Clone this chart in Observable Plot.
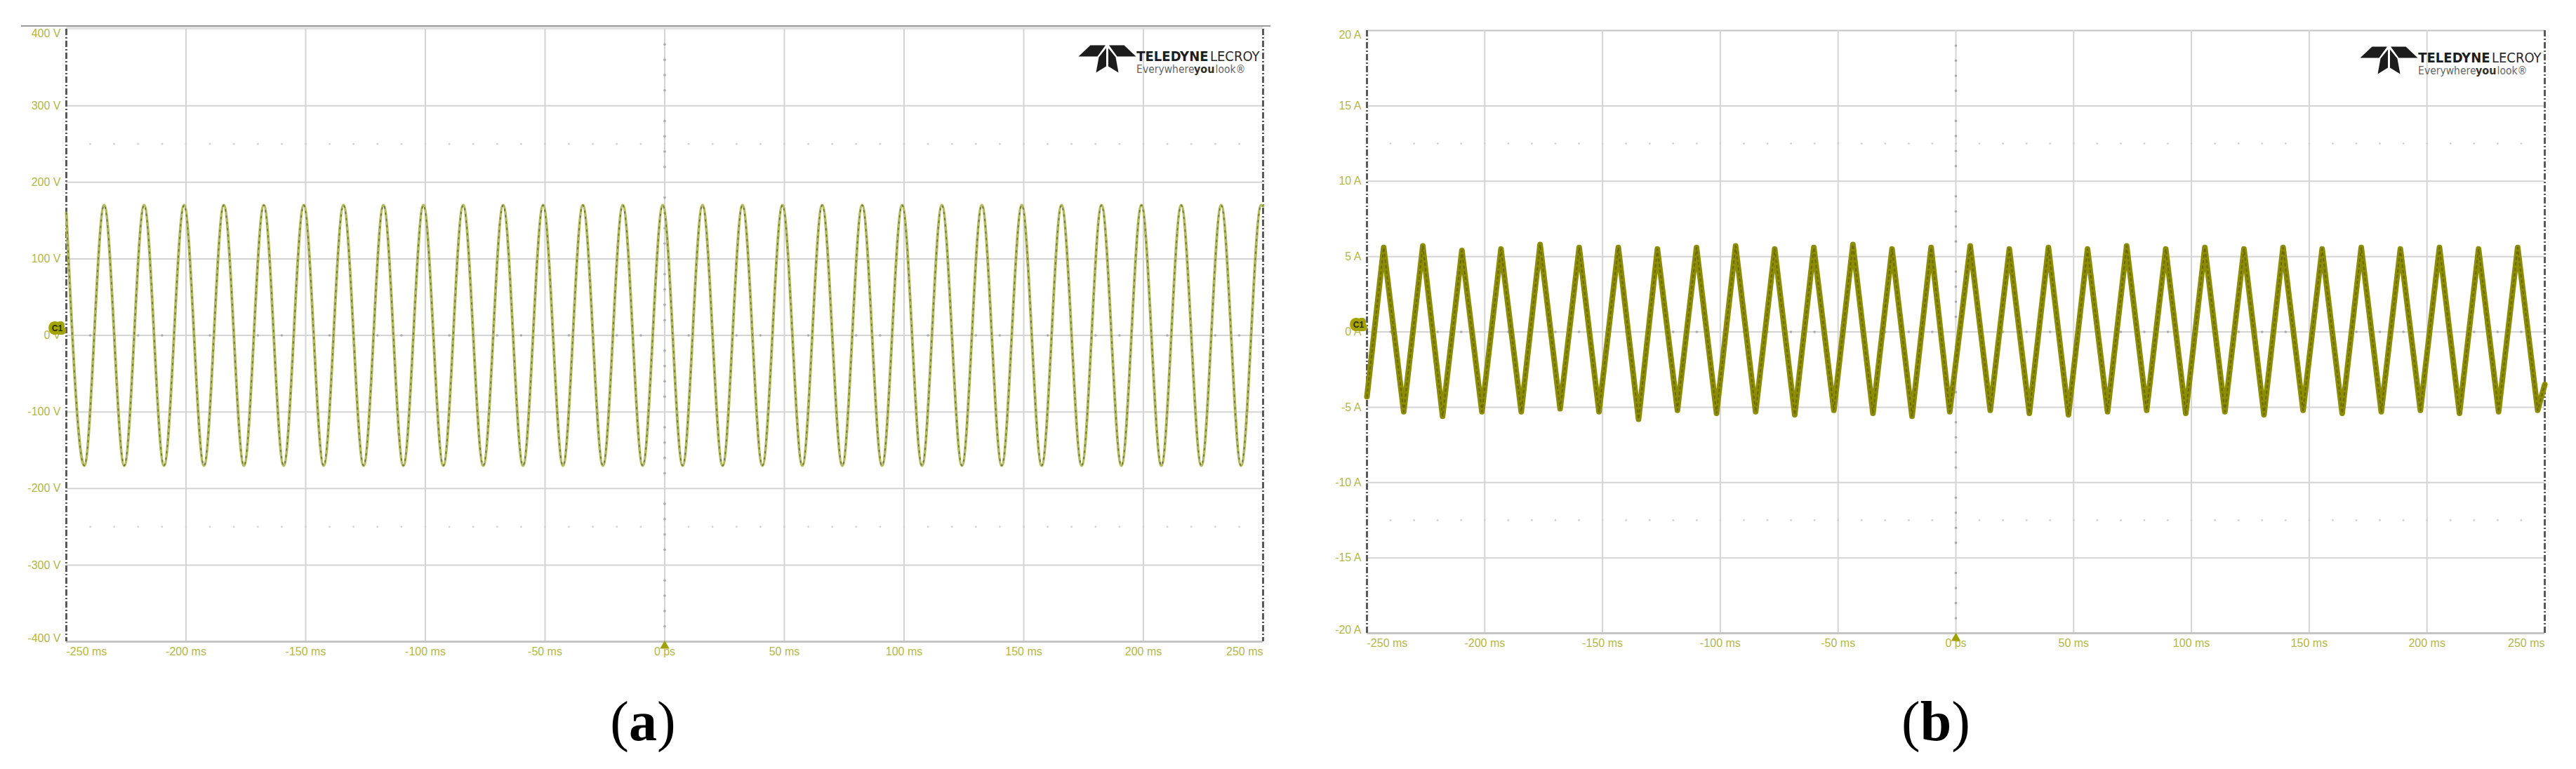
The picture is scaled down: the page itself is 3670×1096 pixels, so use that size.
<!DOCTYPE html>
<html><head><meta charset="utf-8">
<script src="https://cdn.jsdelivr.net/npm/d3@7"></script>
<script src="https://cdn.jsdelivr.net/npm/@observablehq/plot@0.6"></script>
<style>
body{margin:0;background:#fff;width:3670px;height:1096px;position:relative;overflow:hidden;font-family:"Liberation Sans",Arial,sans-serif}
.panel{position:absolute;top:0}
.cap{position:absolute;font-family:"Liberation Serif","Times New Roman",serif;font-size:80px;line-height:80px;color:#000;transform:translateX(-50%);white-space:nowrap}
.cap b{font-weight:bold}
</style></head><body>
<div id="a" class="panel" style="left:0"></div>
<div id="b" class="panel" style="left:1835px"></div>
<div style="position:absolute;left:30px;top:36px;width:1780px;height:2px;background:#9a9a9a"></div>
<div class="cap" style="left:916px;top:988px">(<b>a</b>)</div>
<div class="cap" style="left:2758px;top:988px">(<b>b</b>)</div>
<script>
// ---- Data: panel (a) voltage, peaks/troughs (ms, V)
const timeA = [-250,-242.5,-234.2,-225.8,-217.5,-209.2,-200.8,-192.5,-184.2,-175.8,-167.5,-159.2,-150.8,-142.5,-134.2,-125.8,-117.5,-109.2,-100.8,-92.5,-84.2,-75.8,-67.5,-59.2,-50.8,-42.5,-34.2,-25.8,-17.5,-9.2,-0.8,7.5,15.8,24.2,32.5,40.8,49.2,57.5,65.8,74.2,82.5,90.8,99.2,107.5,115.8,124.2,132.5,140.8,149.2,157.5,165.8,174.2,182.5,190.8,199.2,207.5,215.8,224.2,232.5,240.8,249.2,250];
const voltA = [160,-170,170,-170,170,-170,170,-170,170,-170,170,-170,170,-170,170,-170,170,-170,170,-170,170,-170,170,-170,170,-170,170,-170,170,-170,170,-170,170,-170,170,-170,170,-170,170,-170,170,-170,170,-170,170,-170,170,-170,170,-170,170,-170,170,-170,170,-170,170,-170,170,-170,170,169];
// ---- Data: panel (b) current, peaks/troughs (ms, A)
const timeB = [-250,-242.9,-234.4,-226.3,-217.9,-209.7,-201.2,-193.1,-184.5,-176.5,-168.0,-159.9,-151.5,-143.3,-134.7,-126.7,-118.2,-110.1,-101.6,-93.5,-85.0,-76.9,-68.4,-60.3,-51.8,-43.7,-35.2,-27.1,-18.6,-10.5,-2.6,6.1,14.6,22.7,31.2,39.3,47.8,55.9,64.4,72.5,81.0,89.1,97.6,105.7,114.2,122.3,130.8,138.9,147.4,155.5,164.0,172.1,180.6,188.7,197.2,205.3,213.8,221.9,230.4,238.5,247.0,250];
const ampB = [-4.3,5.6,-5.3,5.7,-5.6,5.4,-5.3,5.5,-5.3,5.8,-5.1,5.6,-5.3,5.6,-5.8,5.5,-5.2,5.6,-5.4,5.7,-5.3,5.5,-5.5,5.6,-5.2,5.8,-5.4,5.5,-5.6,5.6,-5.3,5.7,-5.2,5.5,-5.4,5.6,-5.5,5.5,-5.3,5.7,-5.2,5.5,-5.4,5.6,-5.3,5.5,-5.5,5.6,-5.2,5.5,-5.4,5.6,-5.3,5.5,-5.2,5.6,-5.4,5.5,-5.3,5.6,-5.2,-3.5];

// ---- Axes
const xTicks = [-250,-200,-150,-100,-50,0,50,100,150,200,250];
const xTickLabels = ["-250 ms","-200 ms","-150 ms","-100 ms","-50 ms","0 ps","50 ms","100 ms","150 ms","200 ms","250 ms"];
const yTicksA = [400,300,200,100,0,-100,-200,-300,-400];
const yTickLabelsA = ["400 V","300 V","200 V","100 V","0 V","-100 V","-200 V","-300 V","-400 V"];
const yTicksB = [20,15,10,5,0,-5,-10,-15,-20];
const yTickLabelsB = ["20 A","15 A","10 A","5 A","0 A","-5 A","-10 A","-15 A","-20 A"];
const xMinor = [-240,-230,-220,-210,-190,-180,-170,-160,-140,-130,-120,-110,-90,-80,-70,-60,-40,-30,-20,-10,10,20,30,40,60,70,80,90,110,120,130,140,160,170,180,190,210,220,230,240];
const yMinorA = [380,360,340,320,280,260,240,220,180,160,140,120,80,60,40,20,-20,-40,-60,-80,-120,-140,-160,-180,-220,-240,-260,-280,-320,-340,-360,-380];
const yMinorB = [19,18,17,16,14,13,12,11,9,8,7,6,4,3,2,1,-1,-2,-3,-4,-6,-7,-8,-9,-11,-12,-13,-14,-16,-17,-18,-19];
const dotRowsA = [250,-250];
const dotRowsB = [12.5,-12.5];
const channelLabel = ["C1"];
const logoWords = ["TELEDYNE","LECROY"];
const tagWords = ["Everywhere","you","look"];

const tickColor = "#b3b645";
const logoSymbol = {draw(ctx){
  ctx.moveTo(-41,-3); ctx.lineTo(-24,-19); ctx.lineTo(-2.5,-19); ctx.lineTo(-14,-3); ctx.closePath();
  ctx.moveTo(41,-3); ctx.lineTo(24,-19); ctx.lineTo(2.5,-19); ctx.lineTo(14,-3); ctx.closePath();
  ctx.moveTo(-12,-2); ctx.lineTo(-1.5,-15); ctx.lineTo(-1.5,11); ctx.lineTo(-16,20); ctx.closePath();
  ctx.moveTo(12,-2); ctx.lineTo(1.5,-15); ctx.lineTo(1.5,11); ctx.lineTo(16,20); ctx.closePath();
}};

function scope(cfg){
  const {times, vals, yTicks, yLabels, yMinor, dotRows, ml, mr, mt, mb, traceMarks, topMarks, c1dx, c1dy, trigDy} = cfg;
  const xFmt = d => xTickLabels[xTicks.indexOf(d)];
  const yFmt = d => yLabels[yTicks.indexOf(d)];
  const yMax = yTicks[0], yMin = yTicks[yTicks.length-1];
  const xMin = xTicks[0], xMax = xTicks[xTicks.length-1];
  const xMid = xTicks.slice(1,-1), yMid = yTicks.slice(1,-1);
  const rowPts = dotRows.flatMap(y => xMinor.concat(xMid).map(x => ({x, y})));
  const trace = times.map((t,i) => ({t, v: vals[i]}));
  const axisCommon = {tickSize:0, color: tickColor, fontSize: 16, label: null};
  const logoFont = "DejaVu Sans Condensed, DejaVu Sans, sans-serif";
  return Plot.plot({
    width: 1835, height: 960,
    marginLeft: ml, marginRight: mr, marginTop: mt, marginBottom: mb,
    x: {domain: [xMin, xMax]},
    y: {domain: [yMin, yMax]},
    style: {fontFamily: "Liberation Sans, Arial, sans-serif", fontSize: "16px", background: "#fff", overflow: "visible"},
    marks: [
      ...topMarks(yMax),
      Plot.gridX(xMid, {stroke: "#d4d4d4", strokeOpacity: 1, strokeWidth: 2}),
      Plot.gridY(yMid, {stroke: "#d4d4d4", strokeOpacity: 1, strokeWidth: 2}),
      Plot.dot(rowPts, {x: "x", y: "y", r: 1.4, fill: "#cfcfcf"}),
      Plot.dot(xMinor, {x: d => d, y: () => 0, r: 1.8, fill: "#a9a9a9"}),
      Plot.dot(yMinor, {x: () => 0, y: d => d, r: 1.8, fill: "#a9a9a9"}),
      Plot.ruleY([yMin], {stroke: "#c4c4c4", strokeWidth: 3}),
      Plot.ruleX([xMin, xMax], {stroke: "#5a5a5a", strokeWidth: 3, strokeDasharray: "9,3,2,3"}),
      ...traceMarks(trace),
      Plot.axisY(yMid, {...axisCommon, tickPadding: 8, tickFormat: yFmt}),
      Plot.axisY([yMax], {...axisCommon, tickPadding: 8, tickFormat: yFmt, lineAnchor: "top"}),
      Plot.axisY([yMin], {...axisCommon, tickPadding: 8, tickFormat: yFmt, lineAnchor: "bottom"}),
      Plot.axisX(xMid, {...axisCommon, tickPadding: 8, tickFormat: xFmt}),
      Plot.axisX([xMin], {...axisCommon, tickPadding: 8, tickFormat: xFmt, textAnchor: "start"}),
      Plot.axisX([xMax], {...axisCommon, tickPadding: 8, tickFormat: xFmt, textAnchor: "end"}),
      Plot.text(channelLabel, {x: () => xMin, y: () => 0, text: d => d, dx: c1dx, dy: c1dy, fontSize: 12, fontWeight: "bold",
        fill: "#2e2e00", stroke: "#a3a300", strokeWidth: 10, strokeLinejoin: "round", paintOrder: "stroke"}),
      Plot.dot([0], {x: d => d, y: () => yMin, symbol: "triangle", r: 5, fill: "#a0a000", dy: trigDy}),
      // logo
      Plot.dot([0], {frameAnchor: "top-right", symbol: logoSymbol, fill: "#1c1c1c", dx: -222, dy: 42}),
      Plot.text([logoWords[0]], {frameAnchor: "top-right", text: d => d, textAnchor: "end", dx: -78, dy: 31, fontSize: 20, fontWeight: "bold", fill: "#1e1e1e", fontFamily: logoFont}),
      Plot.text([logoWords[1]], {frameAnchor: "top-right", text: d => d, textAnchor: "end", dx: -5, dy: 31, fontSize: 20, fill: "#2a2a2a", fontFamily: logoFont}),
      Plot.text([tagWords[0]], {frameAnchor: "top-right", text: d => d, textAnchor: "end", dx: -98, dy: 51, fontSize: 15.5, fill: "#666", fontFamily: logoFont}),
      Plot.text([tagWords[1]], {frameAnchor: "top-right", text: d => d, textAnchor: "end", dx: -69, dy: 51, fontSize: 16, fontWeight: "bold", fill: "#333", fontFamily: logoFont}),
      Plot.text([tagWords[2]], {frameAnchor: "top-right", text: d => d + "\u00AE", textAnchor: "start", dx: -68, dy: 51, fontSize: 15.5, fill: "#666", fontFamily: logoFont})
    ]
  });
}

const chartA = scope({
  times: timeA, vals: voltA, yTicks: yTicksA, yLabels: yTickLabelsA, yMinor: yMinorA, dotRows: dotRowsA,
  ml: 94, mr: 36, mt: 41, mb: 46, c1dx: -13, c1dy: -10, trigDy: 6,
  topMarks: (yMax) => [Plot.ruleY([yMax], {stroke: "#e3e3e3", strokeWidth: 5, dy: -2})],
  traceMarks: (trace) => [
    Plot.line(trace, {x: "t", y: "v", curve: "monotone-x", stroke: "#b3ba62", strokeWidth: 4}),
    Plot.line(trace, {x: "t", y: "v", curve: "monotone-x", stroke: "#6f7b30", strokeWidth: 1.8, strokeDasharray: "2,7"})
  ]
});
const chartB = scope({
  times: timeB, vals: ampB, yTicks: yTicksB, yLabels: yTickLabelsB, yMinor: yMinorB, dotRows: dotRowsB,
  ml: 112, mr: 45, mt: 43, mb: 58, c1dx: -12, c1dy: -10, trigDy: 7,
  topMarks: (yMax) => [Plot.ruleY([yMax], {stroke: "#c4c4c4", strokeWidth: 2})],
  traceMarks: (trace) => [
    Plot.line(trace, {x: "t", y: "v", curve: "linear", stroke: "#8c8c06", strokeWidth: 8, strokeLinejoin: "round"}),
    Plot.line(trace, {x: "t", y: "v", curve: "linear", stroke: "#6a6a00", strokeWidth: 2, strokeDasharray: "3,5"})
  ]
});
document.getElementById("a").appendChild(chartA);
document.getElementById("b").appendChild(chartB);
</script>
</body></html>
